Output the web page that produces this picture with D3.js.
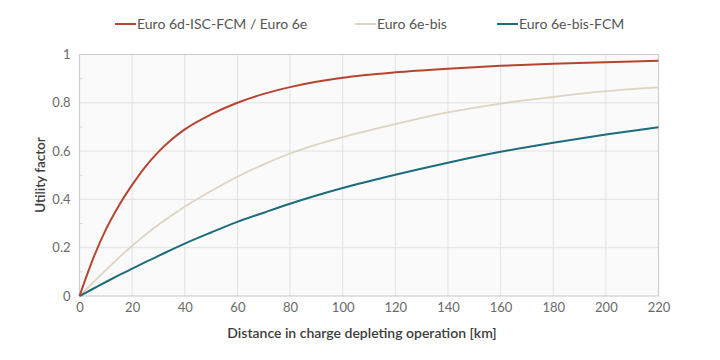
<!DOCTYPE html>
<html><head><meta charset="utf-8">
<script src="https://cdn.jsdelivr.net/npm/d3@7"></script>
<style>body{margin:0;background:#fff}svg{display:block}</style>
</head><body>
<svg id="c" width="720" height="360"></svg>
<script>
const distances = [0,5,10,15,20,25,30,35,40,50,60,70,80,90,100,120,140,160,180,200,220];
const euro6d =    [0,0.15,0.275,0.375,0.46,0.535,0.597,0.648,0.69,0.752,0.80,0.837,0.865,0.887,0.904,0.926,0.941,0.953,0.962,0.968,0.974];
const euro6eBis = [0,0.054,0.107,0.159,0.208,0.253,0.295,0.333,0.37,0.435,0.494,0.545,0.59,0.627,0.658,0.712,0.76,0.797,0.824,0.848,0.864];
const euro6eBisFCM=[0,0.029,0.058,0.086,0.113,0.14,0.166,0.192,0.217,0.263,0.307,0.345,0.382,0.416,0.447,0.502,0.552,0.597,0.635,0.669,0.699];
const seriesNames = ["Euro 6d-ISC-FCM / Euro 6e","Euro 6e-bis","Euro 6e-bis-FCM"];
const seriesColors = ["#b5452e","#ddd4c2","#1d6c7b"];
const xTicks = [0,20,40,60,80,100,120,140,160,180,200,220];
const yTicks = [0,0.2,0.4,0.6,0.8,1];
const yMinorTicks = [0.1,0.3,0.5,0.7,0.9];
const xTitle = "Distance in charge depleting operation [km]";
const yTitle = "Utility factor";

const svg = d3.select("#c");
const m = {l:79.5, r:658.5, t:54.5, b:296};
const x = d3.scaleLinear().domain([0,220]).range([m.l,m.r]);
const y = d3.scaleLinear().domain([0,1]).range([m.b,m.t]);
const font = "Lato, 'Open Sans', sans-serif";

svg.append("rect").attr("x",m.l).attr("y",m.t).attr("width",m.r-m.l).attr("height",m.b-m.t).attr("fill","#fafafa");

// grid
svg.append("g").selectAll("line").data(xTicks.slice(1)).join("line")
  .attr("x1",d=>x(d)).attr("x2",d=>x(d)).attr("y1",m.t).attr("y2",m.b)
  .attr("stroke","#e2e2e2").attr("stroke-width",1);
svg.append("g").selectAll("line").data(yTicks.slice(1)).join("line")
  .attr("x1",m.l).attr("x2",m.r).attr("y1",d=>y(d)).attr("y2",d=>y(d))
  .attr("stroke","#e2e2e2").attr("stroke-width",1);
svg.append("g").selectAll("line").data(yMinorTicks).join("line")
  .attr("x1",m.l).attr("x2",m.l+3).attr("y1",d=>y(d)).attr("y2",d=>y(d))
  .attr("stroke","#d6d6d6").attr("stroke-width",1);
svg.append("rect").attr("x",m.l).attr("y",m.t).attr("width",m.r-m.l).attr("height",m.b-m.t)
  .attr("fill","none").attr("stroke","#cfcfcf").attr("stroke-width",1.2);

// axes
const xAxis = svg.append("g").attr("transform",`translate(0,${m.b})`)
  .call(d3.axisBottom(x).tickValues(xTicks).tickSize(0).tickPadding(7).tickFormat(d3.format("d")));
const yAxis = svg.append("g").attr("transform",`translate(${m.l},0)`)
  .call(d3.axisLeft(y).tickValues(yTicks).tickSize(0).tickPadding(9).tickFormat(d=>d3.format("")(d)));
[xAxis,yAxis].forEach(a=>{a.select(".domain").remove();
  a.selectAll("text").attr("font-family",font).attr("font-size",13).attr("fill","#6a6a6a");});

// lines
const allSeries = [euro6d, euro6eBis, euro6eBisFCM];
const line = d3.line().x((d,i)=>x(distances[i])).y(d=>y(d)).curve(d3.curveMonotoneX);
[1,2,0].forEach(k=>{
  svg.append("path").datum(allSeries[k]).attr("d",line).attr("fill","none")
    .attr("stroke",seriesColors[k]).attr("stroke-width",k===1?1.8:2);
});

// titles
svg.append("text").attr("x",362).attr("y",338).attr("text-anchor","middle")
  .attr("font-family",font).attr("font-size",14).attr("font-weight",600).attr("fill","#3c3c3c").text(xTitle);
svg.append("text").attr("transform","translate(45,175) rotate(-90)").attr("text-anchor","middle")
  .attr("font-family",font).attr("font-size",13.5).attr("font-weight",600).attr("fill","#3c3c3c").text(yTitle);

// legend
const legX = [115,355,497];
const leg = svg.append("g");
seriesNames.forEach((n,i)=>{
  leg.append("line").attr("x1",legX[i]).attr("x2",legX[i]+21).attr("y1",24).attr("y2",24)
    .attr("stroke",seriesColors[i]).attr("stroke-width",2);
  leg.append("text").attr("x",legX[i]+22).attr("y",29).attr("font-family",font).attr("font-size",14)
    .attr("fill","#555").text(n);
});
</script>
</body></html>
